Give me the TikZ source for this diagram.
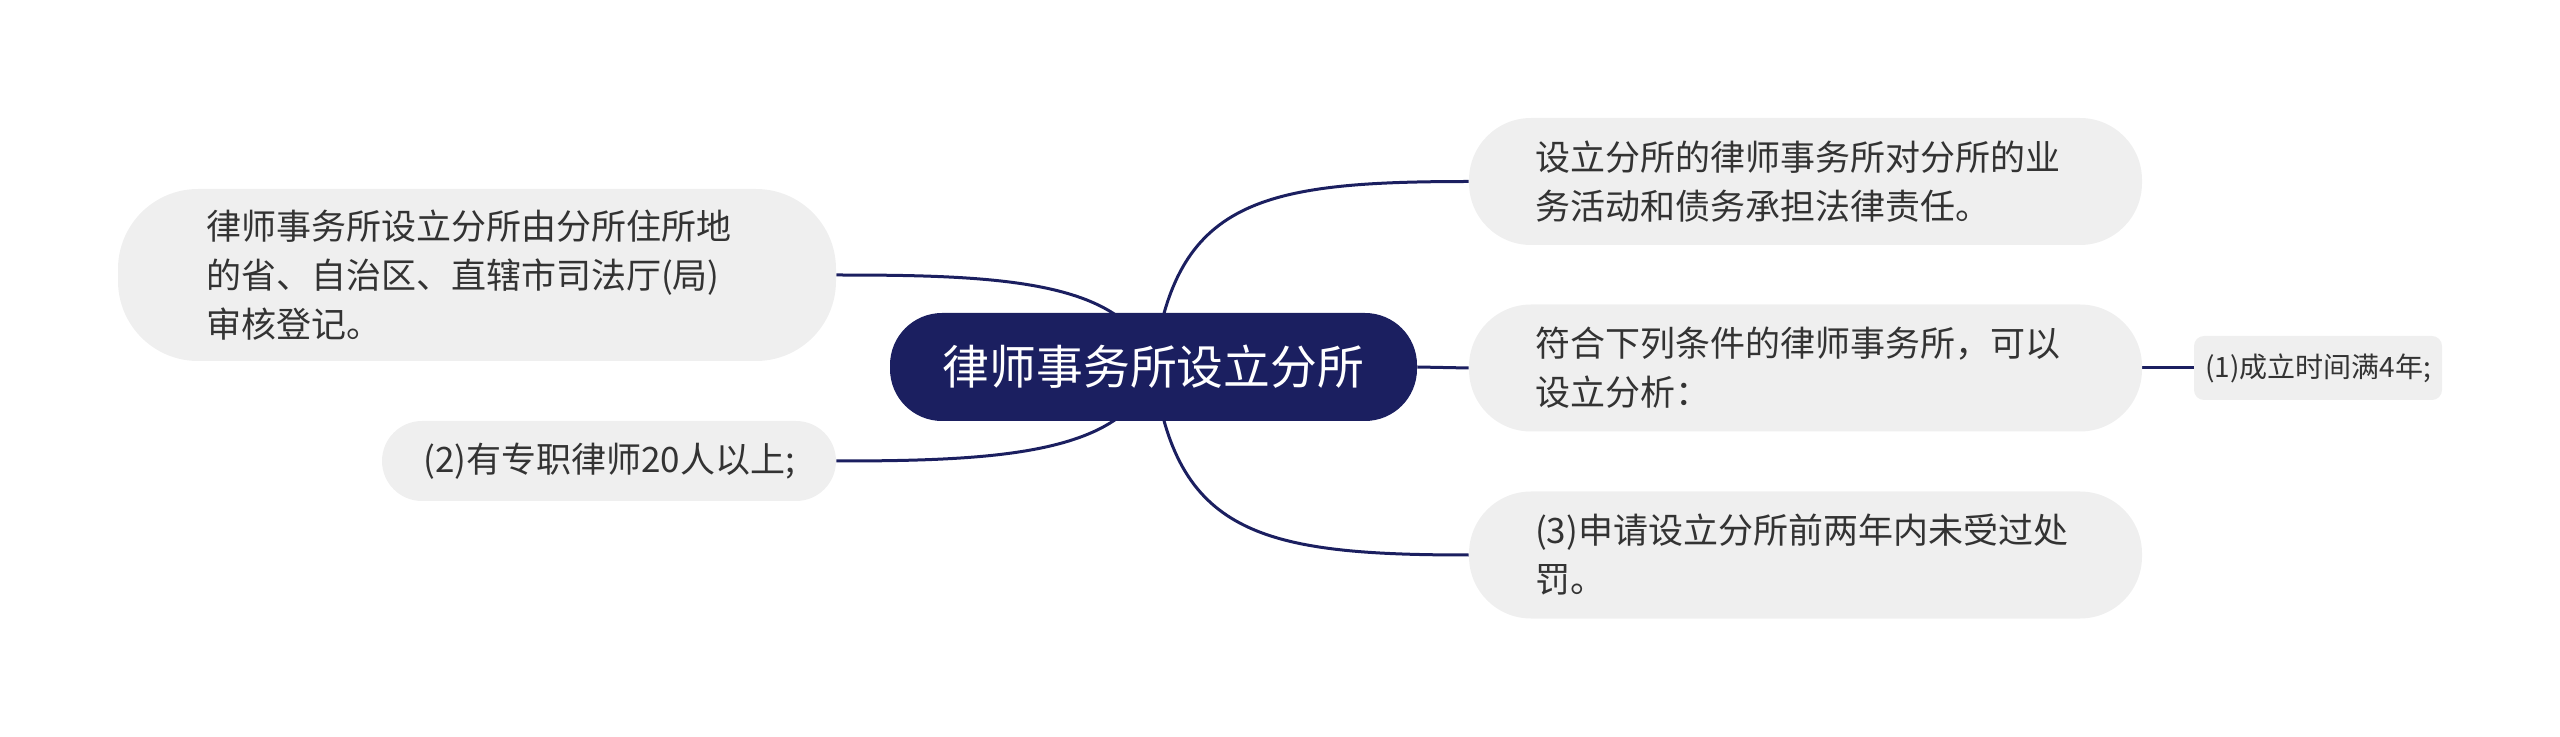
\documentclass[tikz,border=0pt]{standalone}
\usepackage{fontspec}
\setmainfont{Noto Sans CJK SC}
\usetikzlibrary{backgrounds}
\definecolor{navy}{RGB}{27,31,96}
\definecolor{boxgray}{RGB}{239,239,239}
\definecolor{txt}{RGB}{51,51,51}
\begin{document}
\begin{tikzpicture}[x=0.5pt,y=-0.5pt,
  central/.style={fill=navy,text=white,minimum width=263.5pt,minimum height=54pt,
    rounded corners=26pt,inner sep=0pt,font=\fontsize{23.4pt}{28pt}\selectfont},
  topic/.style={fill=boxgray,text=txt,align=left,inner ysep=0pt,
    font=\fontsize{17.5pt}{24.5pt}\selectfont},
  small/.style={fill=boxgray,text=txt,minimum width=124pt,minimum height=32pt,
    rounded corners=5pt,inner sep=0pt,font=\fontsize{14pt}{17pt}\selectfont},
  link/.style={draw=navy,line width=1.5pt}]
\useasboundingbox (0,0) rectangle (2560,737);
\node[central] (c) at (1153.5,367) {律师事务所设立分所};
\node[topic,minimum width=359pt,minimum height=86pt,rounded corners=40pt,
  inner xsep=44pt,text width=271pt] (lt) at (477,275)
  {律师事务所设立分所由分所住所地\\的省、自治区、直辖市司法厅(局)\\审核登记。};
\node[topic,minimum width=227pt,minimum height=40pt,rounded corners=20pt,
  inner xsep=0pt,align=center] (lb) at (609,461) {(2)有专职律师20人以上;};
\node[topic,minimum width=336.5pt,minimum height=63.5pt,rounded corners=31pt,
  inner xsep=33pt,text width=270.5pt] (rt) at (1805.5,181.5)
  {设立分所的律师事务所对分所的业\\务活动和债务承担法律责任。};
\node[topic,minimum width=336.5pt,minimum height=63.5pt,rounded corners=31pt,
  inner xsep=33pt,text width=270.5pt] (rm) at (1805.5,368)
  {符合下列条件的律师事务所，可以\\设立分析：};
\node[topic,minimum width=336.5pt,minimum height=63.5pt,rounded corners=31pt,
  inner xsep=33pt,text width=270.5pt] (rb) at (1805.5,555)
  {(3)申请设立分所前两年内未受过处\\罚。};
\node[small] (s1) at (2318,368) {(1)成立时间满4年;};
\begin{scope}[on background layer]
\draw[link] (c.center) .. controls (1175,200) and (1260,181.5) .. (rt.west);
\draw[link] (c.east) -- (rm.west);
\draw[link] (c.center) .. controls (1175,534) and (1260,555) .. (rb.west);
\draw[link] (c.center) .. controls (1130,280) and (1000,275) .. (lt.east);
\draw[link] (c.center) .. controls (1130,454) and (1000,461) .. (lb.east);
\draw[link] (rm.east) -- (s1.west);
\end{scope}
\end{tikzpicture}
\end{document}
